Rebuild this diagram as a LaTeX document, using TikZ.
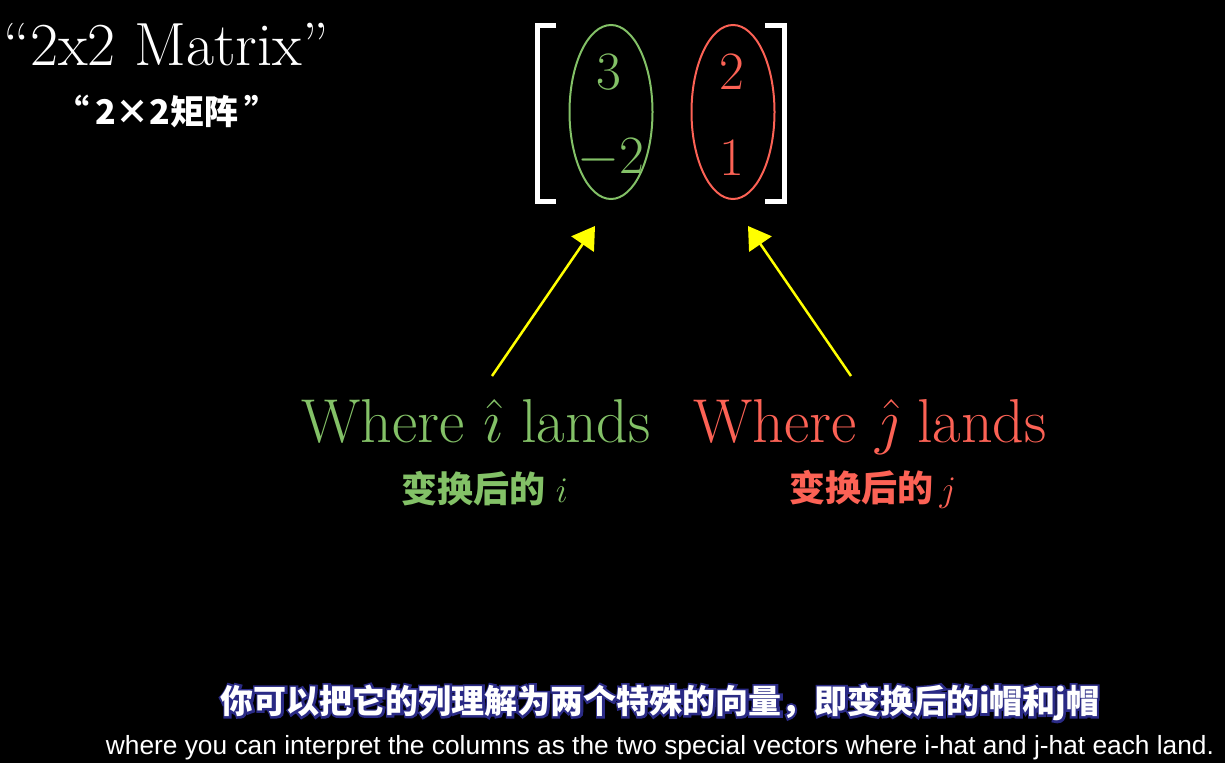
\documentclass[tikz,border=0pt]{standalone}
\usepackage{fix-cm}
\usepackage{fontspec}
\newfontfamily\cjk{Noto Sans CJK SC}
\newfontfamily\cjkhalo{Noto Sans CJK SC Bold}[FakeBold=14]
\newfontfamily\subsans{Liberation Sans}
\usetikzlibrary{shapes.geometric,arrows.meta}
\definecolor{mgreen}{HTML}{83C167}
\definecolor{mred}{HTML}{FC6255}
\definecolor{subblue}{HTML}{2A2A85}
\definecolor{myellow}{HTML}{FFFF00}
\begin{document}
\begin{tikzpicture}[x=1pt,y=-1pt,
  every node/.style={inner sep=0pt,outer sep=0pt},
  bigtext/.style={font=\fontsize{62}{66}\selectfont},
  digit/.style={font=\fontsize{54}{58}\selectfont},
  cjklabel/.style={font=\cjk\bfseries\fontsize{36}{40}\selectfont},
  colring/.style={draw=#1,line width=2pt,ellipse,minimum width=83pt,minimum height=174pt},
  bracket/.style={white,line width=5pt},
  pointer/.style={myellow,line width=2.5pt,-{Triangle[length=22pt,width=27pt]}},
  subcnstyle/.style={font=\fontsize{33}{36}\selectfont}
]
\fill[black] (0,0) rectangle (1225,763);
\useasboundingbox (0,0) rectangle (1225,763);

% title
\node[anchor=base west,white,font=\fontsize{61}{65}\selectfont] (title) at (4,65) {``2x2 Matrix''};
\node[white,font=\cjk\bfseries\fontsize{34}{38}\selectfont] (titlecn) at (167,111) {“\,2×2矩阵\,”};

% matrix brackets
\draw[bracket] (556,25) -- (537,25) -- (537,201) -- (556,201);
\draw[bracket] (765,25) -- (784,25) -- (784,201) -- (765,201);

% column ellipses
\node[colring=mgreen] (col1) at (611,112) {};
\node[colring=mred] (col2) at (733,112) {};

% entries
\node[mgreen,digit] (a11) at (609,72) {$3$};
\node[mgreen,digit] (a21) at (611,158) {$-2$};
\node[mred,digit] (a12) at (732,72) {$2$};
\node[mred,digit] (a22) at (732,158) {$1$};

% labels
\node[anchor=base,mgreen,bigtext] (ilab) at (476,442) {Where $\hat{\imath}$ lands};
\node[anchor=base,mred,bigtext] (jlab) at (870,442) {Where $\hat{\jmath}$ lands};
\node[mgreen,cjklabel] (icn) at (485,489) {变换后的\hspace{10pt}\fontsize{36}{40}\selectfont$i$};
\node[mred,cjklabel] (jcn) at (873,489) {变换后的\hspace{6pt}\fontsize{36}{40}\selectfont$j$};

% arrows
\coordinate (istart) at (492,376);
\coordinate (iend) at (595,226);
\coordinate (jstart) at (851,376);
\coordinate (jend) at (748,226);
\draw[pointer] (istart) -- (iend);
\draw[pointer] (jstart) -- (jend);

% subtitles
\node[subblue,subcnstyle] (subcnhalo) at (660,703) {\cjkhalo 你可以把它的列理解为两个特殊的向量，即变换后的i帽和j帽};
\node[white,subcnstyle] (subcn) at (660,703) {\cjk\bfseries 你可以把它的列理解为两个特殊的向量，即变换后的i帽和j帽};
\node[anchor=base,white,font=\subsans\fontsize{26.3}{30}\selectfont] (suben) at (660,754) {where you can interpret the columns as the two special vectors where i-hat and j-hat each land.};
\end{tikzpicture}
\end{document}
